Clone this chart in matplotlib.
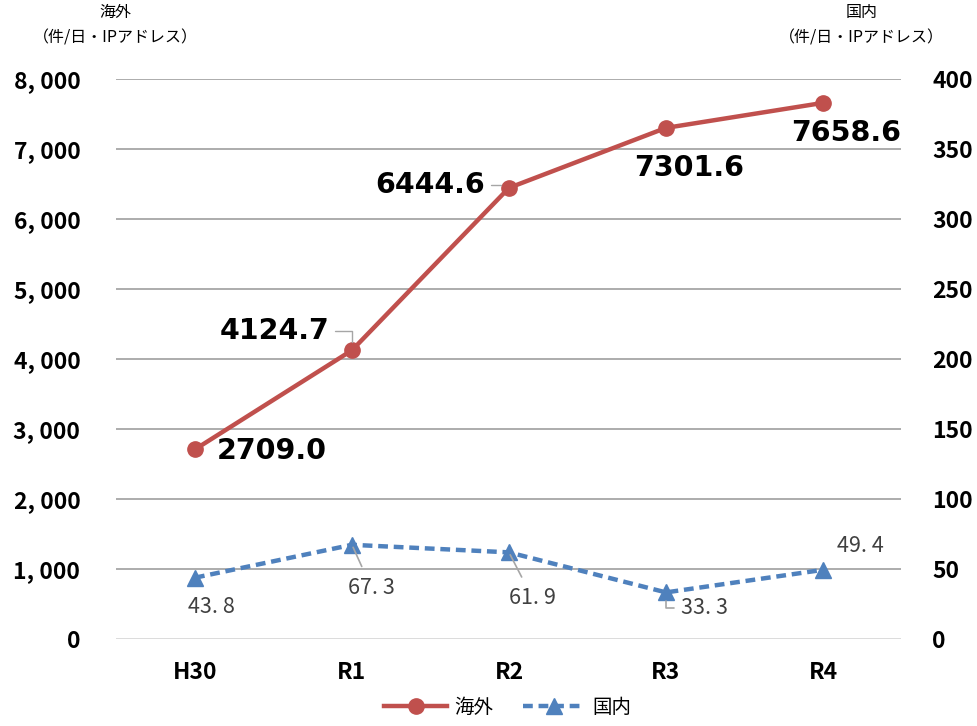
import matplotlib
matplotlib.use("Agg")
import matplotlib.pyplot as plt
from matplotlib.ticker import FuncFormatter

plt.rcParams['font.family'] = ['Liberation Sans Narrow', 'Noto Sans CJK JP', 'DejaVu Sans']

years = ["H30", "R1", "R2", "R3", "R4"]
overseas = [2709.0, 4124.7, 6444.6, 7301.6, 7658.6]
domestic = [43.8, 67.3, 61.9, 33.3, 49.4]

# label offsets (points) relative to each marker
overseas_offsets = [(16, -1, "left"), (-16, 14, "right"), (-17, 2, "right"),
                    (17, -29, "center"), (17, -22, "center")]
domestic_offsets = [(12, -21, None), (14, -31, "line"), (17, -33, "line"),
                    (28, -11, "bracket"), (27, 17, None)]

red = "#C0504D"
blue = "#4F81BD"

fig = plt.figure(figsize=(9.77, 7.26), dpi=100)
ax = fig.add_axes([0.1192, 0.1198, 0.8035, 0.7714])
ax2 = ax.twinx()

x = list(range(len(years)))
ax.plot(x, overseas, color=red, lw=3.2, marker="o", ms=11, zorder=3, label="海外")
ax2.plot(x, domestic, color=blue, lw=3.2, ls=(0, (2.2, 1.3)), marker="^", ms=11,
         zorder=3, label="国内")

ax.set_xlim(-0.5, 4.5)
ax.set_ylim(0, 8000)
ax.set_yticks(range(0, 8001, 1000))
ax2.set_ylim(0, 400)
ax2.set_yticks(range(0, 401, 50))
ax.yaxis.set_major_formatter(FuncFormatter(lambda v, p: f"{int(v):,}".replace(",", ", ")))

for v in range(1000, 8001, 1000):
    ax.axhline(v, color="#A6A6A6", lw=1.3, zorder=0)
ax.axhline(0, color="#D9D9D9", lw=1.3, zorder=0)

for a in (ax, ax2):
    for s in a.spines.values():
        s.set_visible(False)
    a.tick_params(length=0)
ax.tick_params(axis="y", labelsize=16.5, pad=26)
ax2.tick_params(axis="y", labelsize=16.5, pad=22)
ax.tick_params(axis="x", labelsize=16.5, pad=16)
ax.set_xticks(x)
ax.set_xticklabels(years)
for lab in ax.get_xticklabels() + ax.get_yticklabels() + ax2.get_yticklabels():
    lab.set_fontweight("bold")

for i, v in enumerate(overseas):
    dx, dy, ha = overseas_offsets[i]
    arrow = None
    if i in (1, 2):
        arrow = dict(arrowstyle="-", color="#A6A6A6", lw=1,
                     connectionstyle="angle,angleA=0,angleB=90,rad=0",
                     shrinkA=2, shrinkB=6)
    ax.annotate(f"{v:.1f}", (i, v), xytext=(dx, dy), textcoords="offset points",
                ha=ha, va="center", fontsize=20.5, fontweight="bold",
                family=["DejaVu Sans"], color="black", arrowprops=arrow, zorder=5)

for i, v in enumerate(domestic):
    dx, dy, kind = domestic_offsets[i]
    arrow = None
    if kind == "line":
        arrow = dict(arrowstyle="-", color="#A6A6A6", lw=1.2, shrinkA=6, shrinkB=2)
    elif kind == "bracket":
        arrow = dict(arrowstyle="-", color="#A6A6A6", lw=1.2,
                     connectionstyle="angle,angleA=0,angleB=90,rad=0",
                     shrinkA=3, shrinkB=6)
    ax2.annotate(f"{v:.1f}".replace(".", ". "), (i, v), xytext=(dx, dy),
                 textcoords="offset points", ha="center", va="center",
                 fontsize=15.5, color="#404040", arrowprops=arrow, zorder=5)

jp = ["Noto Sans CJK JP"]
fig.text(0.118, 0.983, "海外", ha="center", va="center", fontsize=11.5, family=jp)
fig.text(0.118, 0.948, "（件/日・IPアドレス）", ha="center", va="center",
         fontsize=11.5, family=jp)
fig.text(0.882, 0.983, "国内", ha="center", va="center", fontsize=11.5, family=jp)
fig.text(0.882, 0.948, "（件/日・IPアドレス）", ha="center", va="center",
         fontsize=11.5, family=jp)

h1, l1 = ax.get_legend_handles_labels()
h2, l2 = ax2.get_legend_handles_labels()
fig.legend(h1 + h2, l1 + l2, loc="center", bbox_to_anchor=(0.52, 0.026),
           ncol=2, frameon=False, handlelength=3.2, columnspacing=1.5,
           handletextpad=0.4, prop={"family": jp, "size": 14})

fig.savefig("out.png", dpi=100)
